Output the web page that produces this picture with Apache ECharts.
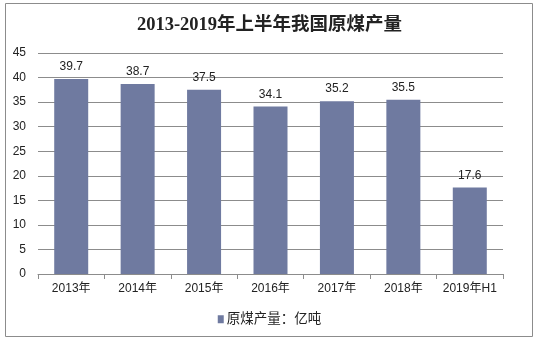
<!DOCTYPE html>
<html>
<head>
<meta charset="utf-8">
<script src="https://cdn.jsdelivr.net/npm/echarts@6/dist/echarts.min.js"></script>
<style>
html,body{margin:0;padding:0;background:#fff;}
#chart{width:539px;height:342px;}
</style>
</head>
<body>
<div id="chart"></div>
<script>
// Raw coal output, first-half years 2013–2019 (100 million tonnes)
const categories = ['2013年', '2014年', '2015年', '2016年', '2017年', '2018年', '2019年H1'];
const output = [39.7, 38.7, 37.5, 34.1, 35.2, 35.5, 17.6];
const seriesName = '原煤产量：亿吨';
const titleText = '2013-2019年上半年我国原煤产量';

const chart = echarts.init(document.getElementById('chart'));
const sans = 'Liberation Sans, Arial, Noto Sans CJK SC, sans-serif';
chart.setOption({
  animation: false,
  backgroundColor: '#fff',
  title: {
    text: titleText,
    left: 'center',
    top: 11,
    textStyle: {
      fontFamily: 'Liberation Serif, Noto Sans CJK SC, serif',
      fontWeight: 'bold',
      fontSize: 18.5,
      color: '#222'
    }
  },
  graphic: [{
    type: 'rect',
    shape: { x: 5.5, y: 3.5, width: 527, height: 333 },
    style: { fill: 'none', stroke: '#8c8c8c', lineWidth: 1 },
    silent: true
  }],
  legend: {
    bottom: 11,
    left: 'center',
    itemWidth: 6,
    itemHeight: 8,
    itemGap: 4,
    icon: 'rect',
    textStyle: { fontFamily: sans, fontSize: 13.5, color: '#222', padding: [0, 0, 0, -2] },
    data: [seriesName]
  },
  grid: { left: 38, right: 36, top: 53, bottom: 68 },
  xAxis: {
    type: 'category',
    data: categories,
    axisLine: { lineStyle: { color: '#8c8c8c' } },
    axisTick: { show: true, interval: 0, lineStyle: { color: '#8c8c8c' }, length: 5 },
    axisLabel: { interval: 0, fontFamily: sans, fontSize: 12, color: '#222', margin: 9 }
  },
  yAxis: {
    type: 'value',
    min: 0,
    max: 45,
    interval: 5,
    axisLine: { show: false },
    axisTick: { show: false },
    splitLine: { lineStyle: { color: '#8c8c8c' } },
    axisLabel: { fontFamily: sans, fontSize: 12, color: '#222', margin: 12 }
  },
  series: [{
    name: seriesName,
    type: 'bar',
    data: output,
    barWidth: 34,
    itemStyle: { color: '#6f7aa0' },
    label: {
      show: true,
      position: 'top',
      distance: 6,
      fontFamily: sans,
      fontSize: 12,
      color: '#222'
    }
  }]
});
</script>
</body>
</html>
